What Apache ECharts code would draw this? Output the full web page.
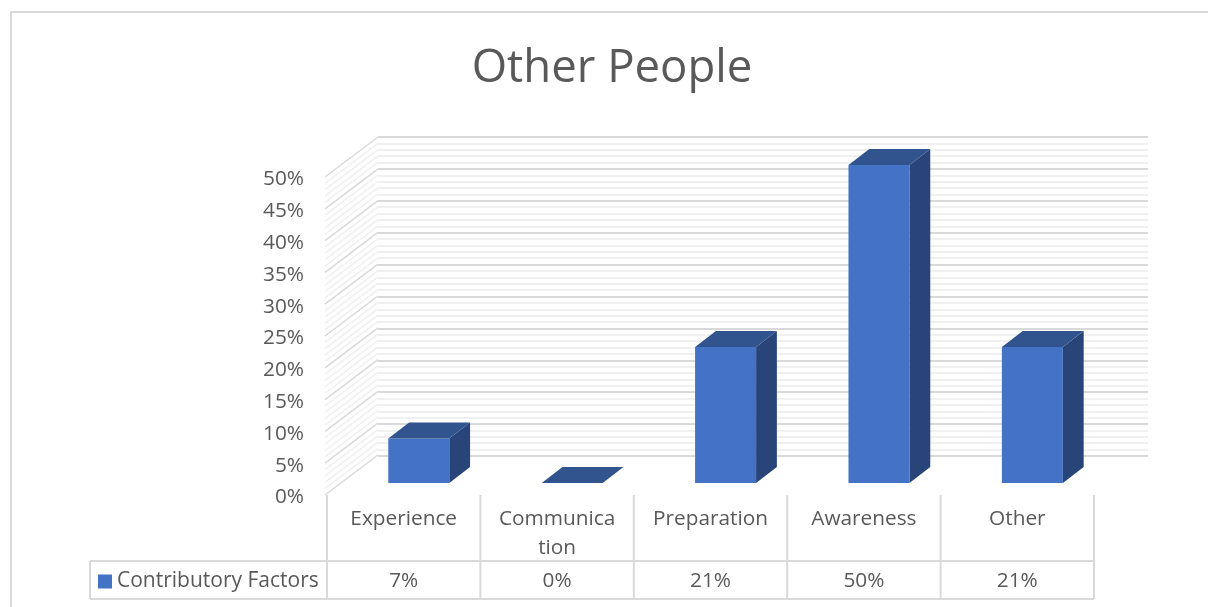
<!DOCTYPE html>
<html>
<head>
<meta charset="utf-8">
<style>html,body{margin:0;padding:0;background:#fff}#c{width:1208px;height:607px}</style>
<script src="https://cdn.jsdelivr.net/npm/echarts@6/dist/echarts.min.js"></script>
</head>
<body>
<div id="c"></div>
<script>
const titleText = 'Other People';
const seriesName = 'Contributory Factors';
const categories = ['Experience', 'Communica\ntion', 'Preparation', 'Awareness', 'Other'];
const values = [7, 0, 21.4, 50, 21.4];
const valueLabels = ['7%', '0%', '21%', '50%', '21%'];
const axisMin = 0, axisMax = 50, axisStep = 5, minorCount = 5;

const FONT = '"Open Sans", sans-serif';
const FS = 20.8;
const TXT = '#595959', MAJOR = '#d9d9d9', MINOR = '#f0f0f0';
const FRONT = '#4472c4', TOP = '#31548f', SIDE = '#284479';
const G = {left: 327, top: 177, width: 767, height: 318};
const WALL = {dx: 52, dy: -40, left: 378, width: 770};
const BAR = {width: 61, depthStart: 0.29, depthSpan: 0.4};
const TABLE = {rowTop: 561, rowBottom: 599, legendLeft: 90};
const LABEL_SHIFT = 2.5;

const chart = echarts.init(document.getElementById('c'), null, {renderer: 'canvas'});

function sideWall(params, api) {
  const kids = [];
  const unit = axisStep / minorCount;
  for (let v = axisMin, n = 0; v <= axisMax; v += unit, n++) {
    const p = api.coord([0, v]);
    const x0 = G.left - 2;
    kids.push({
      type: 'line',
      shape: {x1: x0, y1: p[1], x2: x0 + WALL.dx + 1, y2: p[1] + WALL.dy},
      style: {stroke: n % minorCount === 0 ? MAJOR : MINOR, lineWidth: 1.5}
    });
  }
  return {type: 'group', children: kids};
}

function bar3d(params, api) {
  const i = api.value(0), v = api.value(1);
  const base = api.coord([i, axisMin]), top = api.coord([i, v]);
  const ox = WALL.dx * BAR.depthStart, oy = WALL.dy * 0.3;
  const dx = WALL.dx * BAR.depthSpan, dy = WALL.dy * BAR.depthSpan;
  const l = base[0] + ox - BAR.width / 2, r = l + BAR.width;
  const b = base[1] + oy, t = top[1] + oy;
  const kids = [];
  if (b > t) {
    kids.push({type: 'polygon', shape: {points: [[r, t], [r + dx, t + dy], [r + dx, b + dy], [r, b]]}, style: {fill: SIDE}});
    kids.push({type: 'rect', shape: {x: l, y: t, width: BAR.width, height: b - t}, style: {fill: FRONT}});
  }
  kids.push({type: 'polygon', shape: {points: [[l, t], [l + dx, t + dy], [r + dx, t + dy], [r, t]]}, style: {fill: TOP}});
  return {type: 'group', children: kids};
}

function tableLines() {
  const els = [];
  const step = G.width / categories.length;
  const line = (x1, y1, x2, y2) => els.push({
    type: 'line', silent: true, z: 1,
    shape: {x1, y1, x2, y2}, style: {stroke: MAJOR, lineWidth: 2}
  });
  const bottom = G.top + G.height;
  for (let k = 0; k <= categories.length; k++) {
    const x = G.left + step * k;
    line(x, bottom, x, TABLE.rowBottom);
  }
  line(TABLE.legendLeft, TABLE.rowTop, G.left + G.width, TABLE.rowTop);
  line(TABLE.legendLeft, TABLE.rowBottom, G.left + G.width, TABLE.rowBottom);
  line(TABLE.legendLeft, TABLE.rowTop, TABLE.legendLeft, TABLE.rowBottom);
  els.push({
    type: 'rect', silent: true, z: 0,
    shape: {x: 11, y: 12, width: 1400, height: 800},
    style: {fill: 'none', stroke: MAJOR, lineWidth: 2}
  });
  return els;
}

chart.setOption({
  animation: false,
  backgroundColor: '#fff',
  textStyle: {fontFamily: FONT},
  title: {
    text: titleText, left: 607, top: 41, textAlign: 'center',
    textStyle: {color: TXT, fontSize: 45.5, fontWeight: 'normal', fontFamily: FONT}
  },
  legend: {
    left: 93, top: 566, itemWidth: 14, itemHeight: 14, icon: 'rect', itemGap: 0,
    selectedMode: false,
    data: [seriesName],
    textStyle: {color: TXT, fontSize: 21, fontFamily: FONT}
  },
  grid: [
    {left: G.left, top: G.top, width: G.width, height: G.height},
    {left: WALL.left, top: G.top + WALL.dy, width: WALL.width, height: G.height + 1},
    {left: G.left, top: G.top + LABEL_SHIFT, width: G.width, height: G.height}
  ],
  xAxis: [
    {
      type: 'category', gridIndex: 0, data: categories,
      axisLine: {show: false}, axisTick: {show: false},
      axisLabel: {color: TXT, fontSize: FS, fontFamily: FONT, margin: 10, lineHeight: 29, interval: 0}
    },
    {
      type: 'category', gridIndex: 0, position: 'bottom', offset: 73, data: valueLabels,
      axisLine: {show: false}, axisTick: {show: false},
      axisLabel: {color: TXT, fontSize: FS, fontFamily: FONT, margin: 3, interval: 0}
    },
    {type: 'value', gridIndex: 1, min: 0, max: 1, show: false, splitLine: {show: false}},
    {type: 'value', gridIndex: 2, min: 0, max: 1, show: false, splitLine: {show: false}}
  ],
  yAxis: [
    {
      type: 'value', gridIndex: 0, min: axisMin, max: axisMax, interval: axisStep,
      axisLine: {show: false}, axisTick: {show: false}, splitLine: {show: false}, axisLabel: {show: false}
    },
    {
      type: 'value', gridIndex: 1, min: axisMin, max: axisMax, interval: axisStep,
      axisLine: {show: false}, axisTick: {show: false}, axisLabel: {show: false},
      splitLine: {show: true, lineStyle: {color: MAJOR, width: 2}},
      minorTick: {show: false, splitNumber: minorCount},
      minorSplitLine: {show: true, lineStyle: {color: MINOR, width: 2}}
    },
    {
      type: 'value', gridIndex: 2, min: axisMin, max: axisMax, interval: axisStep,
      axisLine: {show: false}, axisTick: {show: false}, splitLine: {show: false},
      axisLabel: {color: TXT, fontSize: FS, fontFamily: FONT, margin: 23, formatter: '{value}%'}
    }
  ],
  series: [
    {
      type: 'custom', name: 'wall', xAxisIndex: 0, yAxisIndex: 0, silent: true, z: 1, clip: false,
      renderItem: sideWall, data: [[0, axisMin]], encode: {x: 0, y: 1}
    },
    {
      type: 'custom', name: seriesName, xAxisIndex: 0, yAxisIndex: 0, z: 5, clip: false,
      itemStyle: {color: FRONT},
      renderItem: bar3d,
      data: values.map((v, i) => [i, v]),
      encode: {x: 0, y: 1}
    }
  ],
  graphic: tableLines()
});
</script>
</body>
</html>
